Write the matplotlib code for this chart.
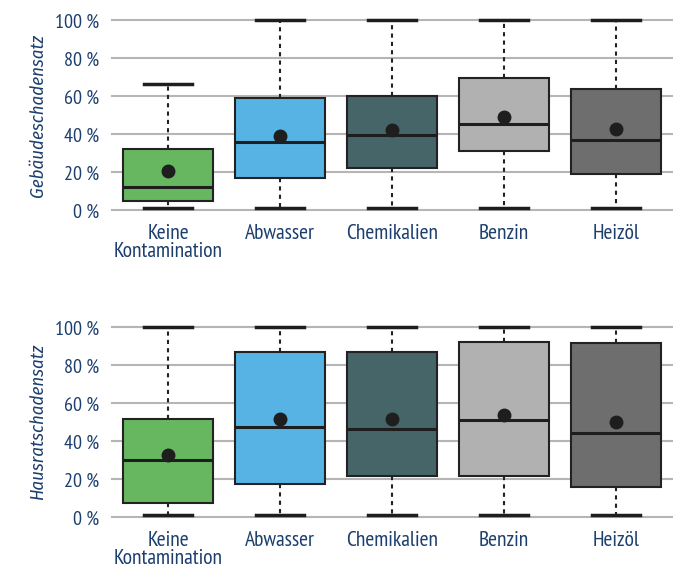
import matplotlib
matplotlib.use('Agg')
import matplotlib.pyplot as plt
from matplotlib.ticker import FuncFormatter

# categories and colours
categories = ['Keine\nKontamination', 'Abwasser', 'Chemikalien', 'Benzin', 'Heizöl']
colors = ['#66b760', '#56b3e4', '#466568', '#b1b1b1', '#6e6e6e']

# Gebäudeschadensatz (%)
geb_low = [1, 1, 1, 1, 1]
geb_q1 = [4.7, 16.8, 22.1, 31.4, 19.1]
geb_med = [12.0, 35.9, 39.5, 45.4, 36.8]
geb_q3 = [32.0, 59.3, 60.2, 69.5, 63.8]
geb_high = [66.7, 100, 100, 100, 100]
geb_mean = [20.9, 39.1, 42.1, 49.1, 42.9]

# Hausratschadensatz (%)
hr_low = [1, 1, 1, 1, 1]
hr_q1 = [7.4, 17.4, 21.7, 21.7, 15.8]
hr_med = [30.3, 47.4, 46.6, 51.4, 44.5]
hr_q3 = [51.9, 87.0, 87.0, 92.1, 91.7]
hr_high = [100, 100, 100, 100, 100]
hr_mean = [33.0, 51.6, 51.6, 53.7, 50.3]

text_color = '#1c3f6e'
plt.rcParams['font.family'] = ['PT Sans Narrow', 'DejaVu Sans']

fig = plt.figure(figsize=(6.73, 5.75), dpi=100)
ax_top = fig.add_axes([112 / 673, 1 - 210.3 / 575, 560 / 673, 190 / 575])
ax_bot = fig.add_axes([112 / 673, 1 - 517.3 / 575, 560 / 673, 190 / 575])


def draw_panel(ax, low, q1, med, q3, high, mean, ylabel):
    stats = []
    for i in range(len(categories)):
        stats.append({'whislo': low[i], 'q1': q1[i], 'med': med[i], 'q3': q3[i],
                      'whishi': high[i], 'mean': mean[i], 'label': categories[i]})
    ax.set_axisbelow(True)
    ax.yaxis.grid(True, color='#b5b5b5', linewidth=1.5, clip_on=False)
    bp = ax.bxp(stats, positions=range(len(categories)), widths=0.81,
                patch_artist=True, showmeans=True, showfliers=False,
                boxprops=dict(edgecolor='#222222', linewidth=1.5),
                medianprops=dict(color='#1e1e1e', linewidth=2.2),
                whiskerprops=dict(color='#222222', linewidth=1.5, linestyle=(0, (2, 2))),
                capprops=dict(color='#1e1e1e', linewidth=2.5),
                capwidths=0.42,
                meanprops=dict(marker='o', markerfacecolor='#1e1e1e',
                               markeredgecolor='#1e1e1e', markersize=9))
    for patch, c in zip(bp['boxes'], colors):
        patch.set_facecolor(c)
    for artist in bp['whiskers'] + bp['caps'] + bp['means']:
        artist.set_clip_on(False)
    ax.set_xlim(-0.5, 4.5)
    ax.set_ylim(0, 100)
    ax.set_yticks([0, 20, 40, 60, 80, 100])
    ax.yaxis.set_major_formatter(FuncFormatter(lambda v, p: f'{v:.0f} %'))
    for s in ax.spines.values():
        s.set_visible(False)
    ax.tick_params(axis='both', length=0, colors=text_color)
    ax.tick_params(axis='y', pad=9, labelsize=14.5)
    ax.tick_params(axis='x', pad=10, labelsize=15.5)
    for lbl in ax.get_xticklabels():
        lbl.set_linespacing(0.92)
        lbl.set_multialignment('center')
    ax.set_ylabel(ylabel, fontsize=13.5, color=text_color, labelpad=6,
                  family=['Fira Sans Condensed', 'DejaVu Sans'], style='italic')


draw_panel(ax_top, geb_low, geb_q1, geb_med, geb_q3, geb_high, geb_mean, 'Gebäudeschadensatz')
draw_panel(ax_bot, hr_low, hr_q1, hr_med, hr_q3, hr_high, hr_mean, 'Hausratschadensatz')

fig.savefig('out.png', dpi=100)
plt.close(fig)
